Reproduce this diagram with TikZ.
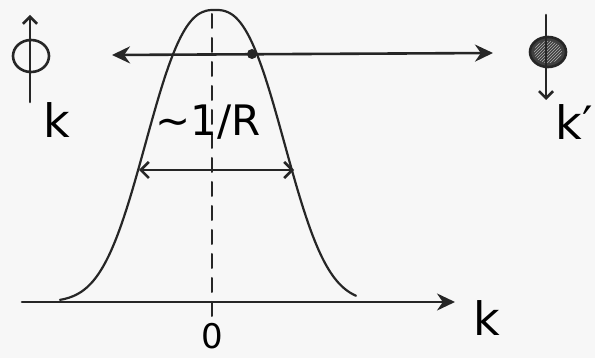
\documentclass[tikz,border=0pt]{standalone}
\usepackage{fontspec}
\setmainfont{DejaVu Sans}
\usetikzlibrary{arrows.meta,patterns}
\begin{document}
\begin{tikzpicture}[x=1pt,y=-1pt,line cap=round,line join=round,>={Stealth[length=18pt,width=17pt]},line width=2.6pt,draw=black!85,font=\fontsize{46}{46}\selectfont]
		\tikzset{declare function={kc=215;kw=84;base=302;hgt=292;
				f(\x)=base-hgt*exp(-(abs(\x-kc)/kw)^2.6);
			},
			smooth,samples=200
		}
		\fill[black!3] (0,0) rectangle (595,358);
		\useasboundingbox (0,0) rectangle (595,358);
		% axis and zero
		\coordinate (kstart) at (22,302);
		\coordinate (kend) at (455,302);
		\draw[->] (kstart)--(kend);
		\node (klab) at (487,318) {k};
		\coordinate (ctop) at (212,14);
		\node[font=\fontsize{34}{34}\selectfont,inner sep=1pt] (zero) at (212,336) {0};
		\draw[dashed,dash pattern=on 14pt off 10pt,line width=2pt] (ctop)--(zero.north);
		% bell
		\draw[line width=2.2pt] plot[domain=60:356] (\x,{f(\x)});
		% long arrow with point
		\coordinate (lleft) at (112,55);
		\coordinate (lright) at (493,53);
		\draw[<->] (lleft)--(lright);
		\fill[black!85] (252,54) circle (5pt);
		% width
		\coordinate (wleft) at (139,170);
		\coordinate (wright) at (294,170);
		\draw[<->,>={Straight Barb[length=8pt,width=16pt]}] (wleft)--(wright);
		\node[font=\fontsize{42}{42}\selectfont] (width) at (208,122) {∼1/R};
		% phi dagger
		\coordinate (pbot) at (30,102);
		\coordinate (ptop) at (30,15);
		\draw (31,56) ellipse (18pt and 16pt);
		\draw[->,>={Straight Barb[length=7pt,width=14pt]}] (pbot)--(ptop);
		\node (kin) at (57,120) {k};
		% phi
		\fill[black!75] (548,52) ellipse (18pt and 15pt);
		\fill[pattern=north east lines,pattern color=black!30] (548,52) ellipse (14pt and 11pt);
		\draw (548,52) ellipse (18pt and 15pt);
		\coordinate (qtop) at (546,15);
		\coordinate (qbot) at (546,100);
		\draw[->,>={Straight Barb[length=7pt,width=14pt]}] (qtop)--(qbot);
		\node (kout) at (574,122) {k′};
	\end{tikzpicture}
\end{document}
